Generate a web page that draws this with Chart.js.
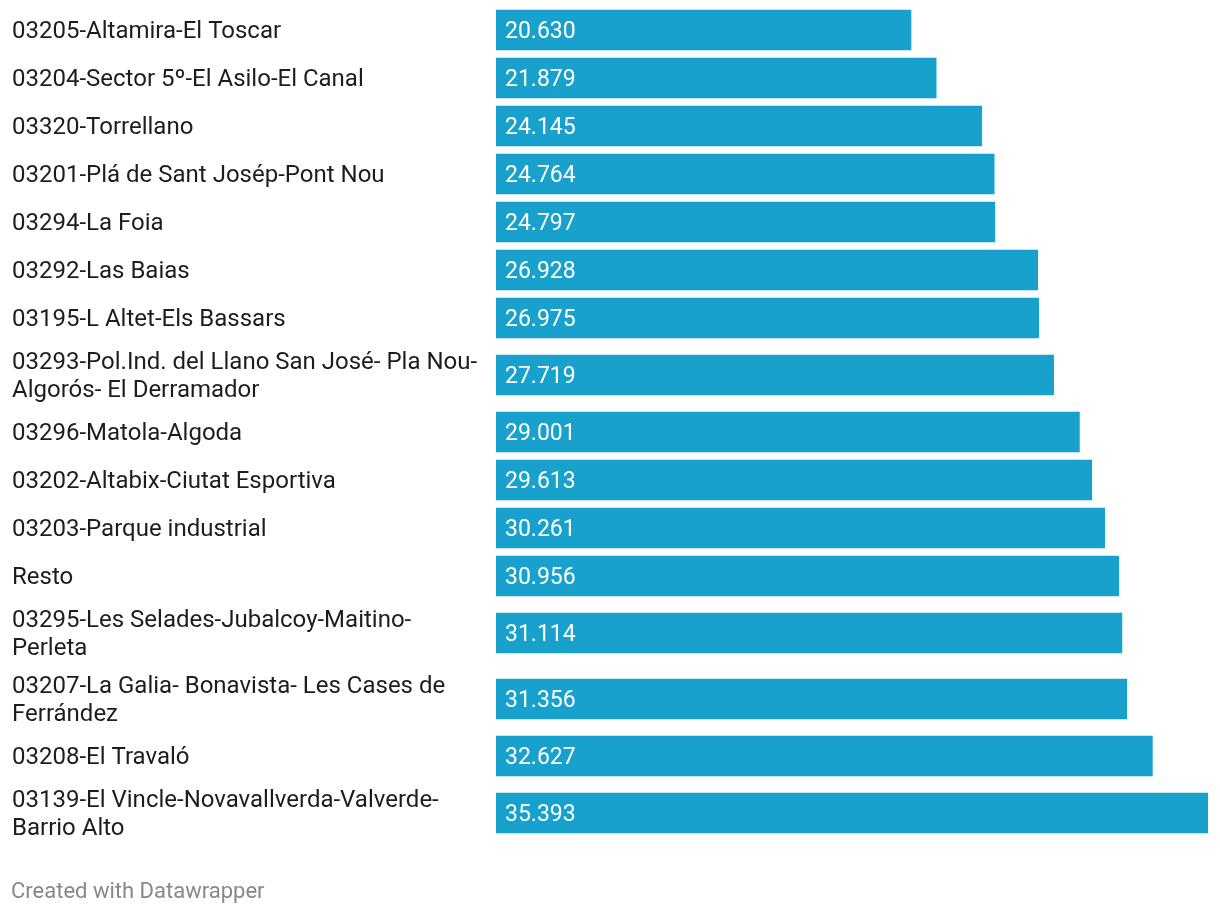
<!DOCTYPE html>
<html lang="es">
<head>
  <meta charset="UTF-8">
  <title>Renta por código postal</title>
  <script src="https://cdn.jsdelivr.net/npm/chart.js"></script>
  <style>
    body { margin: 0; background: #ffffff; }
    #chart-container { width: 1220px; height: 918px; position: relative; }
  </style>
</head>
<body>
  <div id="chart-container">
    <canvas id="rentaChart"></canvas>
  </div>
  <script>
    // categories (wrapped labels are arrays of lines, as in the picture)
    const categories = [
      ['03205-Altamira-El Toscar'],
      ['03204-Sector 5º-El Asilo-El Canal'],
      ['03320-Torrellano'],
      ['03201-Plá de Sant Josép-Pont Nou'],
      ['03294-La Foia'],
      ['03292-Las Baias'],
      ['03195-L Altet-Els Bassars'],
      ['03293-Pol.Ind. del Llano San José- Pla Nou-', 'Algorós- El Derramador'],
      ['03296-Matola-Algoda'],
      ['03202-Altabix-Ciutat Esportiva'],
      ['03203-Parque industrial'],
      ['Resto'],
      ['03295-Les Selades-Jubalcoy-Maitino-', 'Perleta'],
      ['03207-La Galia- Bonavista- Les Cases de', 'Ferrández'],
      ['03208-El Traval\u00f3'],
      ['03139-El Vincle-Novavallverda-Valverde-', 'Barrio Alto']
    ];

    const values = [20630, 21879, 24145, 24764, 24797, 26928, 26975, 27719,
                    29001, 29613, 30261, 30956, 31114, 31356, 32627, 35393];

    const footerText = 'Created with Datawrapper';

    // row layout: one-line rows are shorter than two-line rows
    const ROW_ONE = 48, ROW_TWO = 66;
    let cursor = 0;
    const rowCenters = categories.map(lines => {
      const h = lines.length > 1 ? ROW_TWO : ROW_ONE;
      const c = cursor + h / 2;
      cursor += h;
      return c;
    });
    const totalRows = cursor;

    function fmt(v) {
      return String(Math.round(v)).replace(/\B(?=(\d{3})+(?!\d))/g, '.');
    }

    const labelPlugin = {
      id: 'dwLabels',
      afterDatasetsDraw(chart) {
        const ctx = chart.ctx;
        const y = chart.scales.y;
        ctx.save();
        ctx.textBaseline = 'middle';

        // row labels on the left
        ctx.font = '24px Roboto';
        ctx.fillStyle = '#1d1d1d';
        ctx.textAlign = 'left';
        categories.forEach((lines, i) => {
          const cy = y.getPixelForValue(rowCenters[i]) + 2;
          const lh = 28;
          lines.forEach((line, j) => {
            ctx.fillText(line, 12, cy + (j - (lines.length - 1) / 2) * lh);
          });
        });

        // values inside the bars
        ctx.font = '23px Roboto';
        ctx.fillStyle = '#ffffff';
        chart.getDatasetMeta(0).data.forEach((bar, i) => {
          ctx.fillText(fmt(values[i]), bar.base + 9, bar.y + 2);
        });

        // footer
        ctx.font = '22px Roboto';
        ctx.fillStyle = '#888888';
        ctx.fillText(footerText, 11, 892);
        ctx.restore();
      }
    };

    const ctx = document.getElementById('rentaChart').getContext('2d');
    const rentaChart = new Chart(ctx, {
      type: 'bar',
      data: {
        datasets: [{
          data: values.map((v, i) => ({ x: v, y: rowCenters[i] })),
          backgroundColor: '#18a1cd',
          borderWidth: 0,
          barThickness: 40
        }]
      },
      options: {
        indexAxis: 'y',
        responsive: true,
        maintainAspectRatio: false,
        animation: false,
        layout: { padding: { left: 496, right: 12, top: 6, bottom: 72 } },
        scales: {
          x: { type: 'linear', display: false, min: 0, max: Math.max(...values) },
          y: { type: 'linear', display: false, offset: false, min: 0, max: totalRows, reverse: true }
        },
        plugins: {
          legend: { display: false },
          tooltip: { enabled: false }
        }
      },
      plugins: [labelPlugin]
    });
  </script>
</body>
</html>
